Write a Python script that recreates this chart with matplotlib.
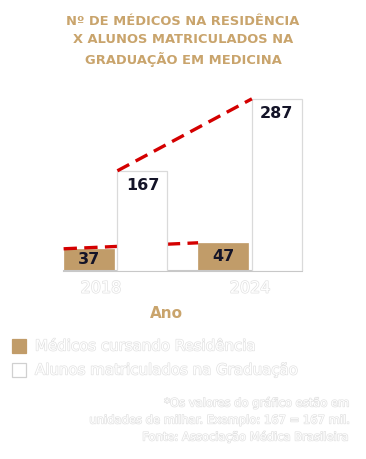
import matplotlib
matplotlib.use("Agg")
import matplotlib.pyplot as plt
import matplotlib.patheffects as pe
import numpy as np
from matplotlib.patches import Rectangle

# data
years = ["2018", "2024"]
residencia = [37, 47]
graduacao = [167, 287]
series_names = ["Médicos cursando Residência", "Alunos matriculados na Graduação"]
title = "Nº DE MÉDICOS NA RESIDÊNCIA\nX ALUNOS MATRICULADOS NA\nGRADUAÇÃO EM MEDICINA"
notes = [
    "*Os valores do gráfico estão em",
    "unidades de milhar. Exemplo: 167 = 167 mil.",
    "Fonte: Associação Médica Brasileira",
]

C_TAN = "#C19C69"
C_TITLE = "#C9A46C"
C_EDGE = "#dadada"
C_RED = "#D40000"
C_NUM = "#141428"
GHOST = [pe.Stroke(linewidth=1.0, foreground="#e2e2e2"), pe.Normal()]

W, H = 366, 459
fig = plt.figure(figsize=(W / 100, H / 100), dpi=100, facecolor="white")

# axes placed in pixel terms
ax_l, ax_r, ax_base, ax_top = 55, 310, 271, 91
ax = fig.add_axes([ax_l / W, (H - ax_base) / H, (ax_r - ax_l) / W, (ax_base - ax_top) / H])
ax.set_facecolor("none")

x = np.arange(len(years))
bw = 0.372
off = 0.2
x_res = x - off
x_grad = x + off

ax.bar(x_res, residencia, width=bw, color=C_TAN, edgecolor=C_TAN, lw=0.5, zorder=2)
ax.bar(x_grad, graduacao, width=bw, color="white", edgecolor=C_EDGE, lw=0.9, zorder=4)

# dashed trend lines, from left edge of each bar
ax.plot(x_res - bw / 2, residencia, color=C_RED, lw=2.4, ls=(0, (4, 2.2)), zorder=3)
ax.plot(x_grad - bw / 2, graduacao, color=C_RED, lw=2.4, ls=(0, (4, 2.2)), zorder=5)

for xi, v in zip(x_res, residencia):
    ax.text(xi, v / 2, str(v), ha="center", va="center", fontsize=11.5,
            fontweight="bold", color=C_NUM, zorder=6)
for xi, v in zip(x_grad, graduacao):
    ax.annotate(str(v), (xi, v), xytext=(0, -10.5), textcoords="offset points",
                ha="center", va="center", fontsize=11.5, fontweight="bold",
                color=C_NUM, zorder=6)

ax.set_xlim(-0.45, 1.446)
ax.set_ylim(0, 300)
for s in ("top", "right", "left"):
    ax.spines[s].set_visible(False)
ax.spines["bottom"].set_color("#c8c8c8")
ax.spines["bottom"].set_linewidth(1.5)
ax.spines["bottom"].set_bounds(x_res[0] - bw / 2, x_grad[-1] + bw / 2)
ax.set_yticks([])
ax.set_xticks([x[0] - 0.108, x[1]])
ax.set_xticklabels(years, fontsize=11.5, color="white", path_effects=GHOST)
ax.tick_params(axis="x", length=0, pad=7)

fig.text(166 / W, 1 - 313 / H, "Ano", ha="center", va="center", fontsize=11,
         fontweight="bold", color=C_TITLE)

fig.text(183 / W, 1 - 41 / H, title, ha="center", va="center", fontsize=9.4,
         fontweight="bold", color=C_TITLE, linespacing=1.5)

# legend
for i, (name, fc, ec) in enumerate(zip(series_names, [C_TAN, "white"], [C_TAN, "#d0d0d0"])):
    yc = 346 + i * 24
    fig.patches.append(Rectangle((12 / W, 1 - (yc + 7) / H), 14 / W, 14 / H,
                                 transform=fig.transFigure, facecolor=fc,
                                 edgecolor=ec, lw=0.9))
    fig.text(35 / W, 1 - yc / H, name, ha="left", va="center", fontsize=10.8,
             color="white", path_effects=GHOST)

for i, line in enumerate(notes):
    fig.text(349 / W, 1 - (403 + 17 * i) / H, line, ha="right", va="center",
             fontsize=8.3, color="white", path_effects=GHOST)

fig.savefig("out.png", dpi=100, facecolor="white")
